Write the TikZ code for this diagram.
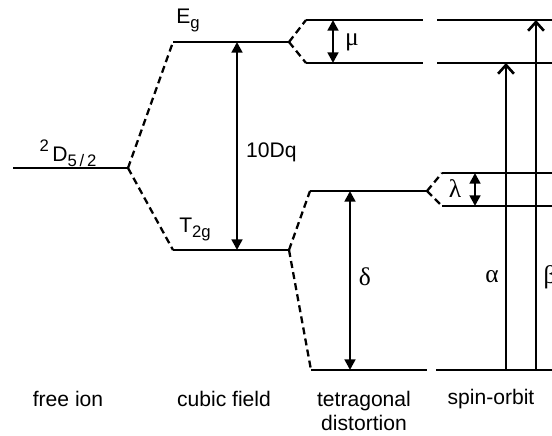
\documentclass[tikz,border=0pt]{standalone}
\usepackage{fontspec}
\setmainfont{Liberation Sans}
\newfontfamily\greekfont{Liberation Serif}
\usetikzlibrary{arrows.meta}
\newcommand{\lvsub}[1]{\raisebox{-0.45ex}{\fontsize{9.5}{10}\selectfont #1}}
\newcommand{\lvsup}[1]{\raisebox{0.9ex}{\fontsize{9.5}{10}\selectfont #1}}

\begin{document}
\begin{tikzpicture}[x=0.02cm,y=-0.02cm,>={Triangle[length=6pt,width=6pt]},
  every node/.style={font=\fontsize{12}{14}\selectfont},
  level/.style={line width=1.3pt},
  split/.style={line width=1.3pt,dash pattern=on 4pt off 2.4pt},
  gap/.style={<->,line width=1.5pt},
  trans/.style={-{Straight Barb[length=5pt,width=9pt]},line width=1.5pt},
  greek/.style={font=\greekfont\fontsize{14.5}{16}\selectfont}]
\useasboundingbox (0,0) rectangle (552,436);
\clip (0,0) rectangle (552,436);
% energy levels
\coordinate (free1) at (13,168);  \coordinate (free2) at (128,168);
\coordinate (eg1) at (173,42);    \coordinate (eg2) at (289,42);
\coordinate (tg1) at (173,250);   \coordinate (tg2) at (289,250);
\coordinate (muA1) at (306,20);   \coordinate (muA2) at (423,20);
\coordinate (muA3) at (437,20);   \coordinate (muA4) at (560,20);
\coordinate (muB1) at (306,63);   \coordinate (muB2) at (423,63);
\coordinate (muB3) at (437,63);   \coordinate (muB4) at (560,63);
\coordinate (tetA1) at (310,191); \coordinate (tetA2) at (427,191);
\coordinate (tetB1) at (311,370); \coordinate (tetB2) at (427,370);
\coordinate (tetB3) at (436,370); \coordinate (tetB4) at (560,370);
\coordinate (lamA1) at (442,173); \coordinate (lamA2) at (560,173);
\coordinate (lamB1) at (442,206); \coordinate (lamB2) at (560,206);
\draw[level] (free1) -- (free2);
\draw[level] (eg1) -- (eg2);
\draw[level] (tg1) -- (tg2);
\draw[level] (muA1) -- (muA2);
\draw[level] (muA3) -- (muA4);
\draw[level] (muB1) -- (muB2);
\draw[level] (muB3) -- (muB4);
\draw[level] (tetA1) -- (tetA2);
\draw[level] (tetB1) -- (tetB2);
\draw[level] (tetB3) -- (tetB4);
\draw[level] (lamA1) -- (lamA2);
\draw[level] (lamB1) -- (lamB2);
% splittings
\draw[split] (free2) -- (eg1);
\draw[split] (free2) -- (tg1);
\draw[split] (eg2) -- (muA1);
\draw[split] (eg2) -- (muB1);
\draw[split] (tg2) -- (tetA1);
\draw[split] (tg2) -- (tetB1);
\draw[split] (tetA2) -- (lamA1);
\draw[split] (tetA2) -- (lamB1);
% gaps and transitions
\coordinate (dqTop) at (237,42);    \coordinate (dqBot) at (237,250);
\coordinate (muTop) at (333,20);    \coordinate (muBot) at (333,63);
\coordinate (lamTop) at (475,173);  \coordinate (lamBot) at (475,206);
\coordinate (delTop) at (350,191);  \coordinate (delBot) at (350,370);
\coordinate (alBot) at (506,370);   \coordinate (alTop) at (506,63);
\coordinate (beBot) at (536,370);   \coordinate (beTop) at (536,20);
\draw[gap] (dqTop) -- (dqBot);
\draw[gap] (muTop) -- (muBot);
\draw[gap] (lamTop) -- (lamBot);
\draw[gap] (delTop) -- (delBot);
\draw[trans] (alBot) -- (alTop);
\draw[trans] (beBot) -- (beTop);
% labels
\node (lfree) at (68,153) {\lvsup{2}\,D\lvsub{5\,/\,2}};
\node (leg) at (188,20) {E\lvsub{g}};
\node (ltg) at (195,229) {T\lvsub{2g}};
\node[anchor=west] (ldq) at (240,152) {10Dq};
\node[greek] (lmu) at (352,42) {μ};
\node[greek] (llam) at (455,189) {λ};
\node[greek] (ldel) at (365,277) {δ};
\node[greek] (lal) at (492,277) {α};
\node[greek] (lbe) at (550,277) {β};
\node (sfree) at (68,399) {free ion};
\node (scub) at (224,399) {cubic field};
\node[align=center] (stet) at (364,411) {tetragonal\\distortion};
\node (sso) at (491,399) {spin-orbit};
\end{tikzpicture}
\end{document}
